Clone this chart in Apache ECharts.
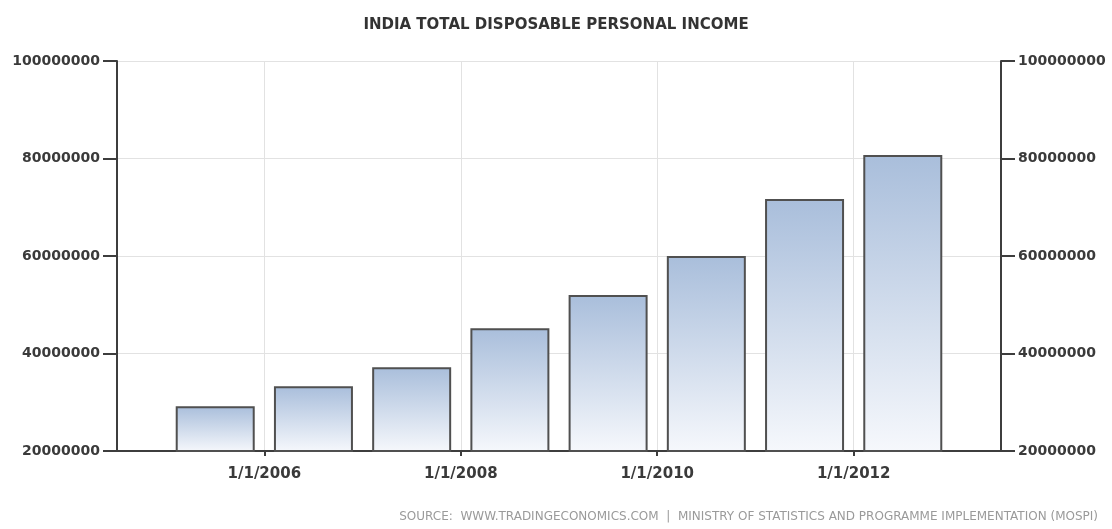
<!DOCTYPE html>
<html>
<head>
<meta charset="utf-8">
<script src="https://cdn.jsdelivr.net/npm/echarts@6/dist/echarts.min.js"></script>
<style>
  html, body { margin: 0; padding: 0; background: #fff; }
  #chart { width: 1112px; height: 529px; }
</style>
</head>
<body>
<div id="chart"></div>
<script>
// yearly values, bars sit in the middle of each year
const years = [2005, 2006, 2007, 2008, 2009, 2010, 2011, 2012]
const income = [29200000, 33300000, 37200000, 45200000, 52000000, 60000000, 71700000, 80700000]
const yearTicks = [2006, 2008, 2010, 2012]
const yTicks = [20000000, 40000000, 60000000, 80000000, 100000000]

const axisColor = '#3d3d3d'
const labelFont = { color: '#3a3a3a', fontSize: 14, fontWeight: 'bold', fontFamily: 'DejaVu Sans' }

const chart = echarts.init(document.getElementById('chart'))

const yAxisBase = {
  type: 'value',
  min: yTicks[0],
  max: yTicks[yTicks.length - 1],
  interval: yTicks[1] - yTicks[0],
  axisLine: { show: true, lineStyle: { color: axisColor, width: 2 } },
  axisTick: { show: true, length: 14, lineStyle: { color: axisColor, width: 2 } },
  axisLabel: Object.assign({ margin: 17, formatter: (v) => String(v) }, labelFont),
}

chart.setOption({
  animation: false,
  title: {
    text: 'INDIA TOTAL DISPOSABLE PERSONAL INCOME',
    left: 'center',
    top: 13,
    textStyle: { color: '#333', fontSize: 15, fontWeight: 'bold', fontFamily: 'DejaVu Sans' },
  },
  graphic: [{
    type: 'text',
    right: 14,
    top: 511,
    style: {
      text: 'SOURCE:  WWW.TRADINGECONOMICS.COM  |  MINISTRY OF STATISTICS AND PROGRAMME IMPLEMENTATION (MOSPI)',
      fill: '#9a9a9a',
      fontSize: 12,
      fontFamily: 'DejaVu Sans',
    },
  }],
  grid: { left: 117, right: 111, top: 61, bottom: 78, containLabel: false, outerBoundsMode: 'none' },
  xAxis: {
    type: 'value',
    min: years[0] - 0.5,
    max: years[years.length - 1] + 1.5,
    axisLine: { show: true, onZero: false, lineStyle: { color: axisColor, width: 2 } },
    axisTick: { show: true, length: 5, customValues: yearTicks, lineStyle: { color: axisColor, width: 2 } },
    axisLabel: Object.assign({}, labelFont, { margin: 16, fontSize: 15, customValues: yearTicks, formatter: (v) => '1/1/' + v }),
    splitLine: { show: true, customValues: yearTicks, lineStyle: { color: '#e2e2e2', width: 1 } },
  },
  yAxis: [
    Object.assign({ position: 'left', splitLine: { show: true, lineStyle: { color: '#e2e2e2', width: 1 } } }, yAxisBase),
    Object.assign({ position: 'right', splitLine: { show: false } }, yAxisBase),
  ],
  series: [{
    type: 'bar',
    data: years.map((y, i) => [y + 0.5, income[i]]),
    barWidth: 79,
    itemStyle: {
      borderColor: '#505050',
      borderWidth: 2,
      color: {
        type: 'linear',
        x: 0, y: 0, x2: 0, y2: 1,
        colorStops: [
          { offset: 0, color: '#a9bedb' },
          { offset: 1, color: '#f6f8fc' },
        ],
      },
    },
  }],
})
</script>
</body>
</html>
